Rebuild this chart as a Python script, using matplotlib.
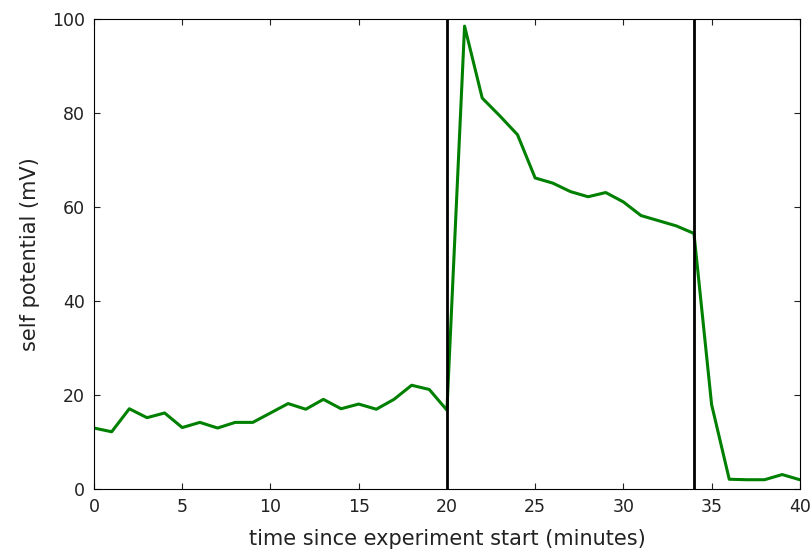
import matplotlib.pyplot as plt

# self potential readings, one per minute
minutes = list(range(0, 41))
potential = [13.0, 12.2, 17.1, 15.2, 16.2, 13.1, 14.2, 13.0, 14.2, 14.2,
             16.2, 18.2, 17.0, 19.1, 17.1, 18.1, 17.0, 19.1, 22.1, 21.2,
             16.8, 98.5, 83.2, 79.4, 75.4, 66.2, 65.1, 63.3, 62.2, 63.1,
             61.1, 58.2, 57.1, 56.0, 54.4, 18.0, 2.1, 2.0, 2.0, 3.1, 2.0]

# instants where the conditions were changed
events = [20, 34]

plt.rcParams['font.family'] = 'DejaVu Sans'

fig = plt.figure(figsize=(8.12, 5.53), dpi=100)
ax = fig.add_axes([0.1158, 0.1155, 0.8692, 0.85])

ax.plot(minutes, potential, color='green', linewidth=2.2)
for t in events:
    ax.axvline(t, color='black', linewidth=2)

ax.set_xlim(0, 40)
ax.set_ylim(0, 100)
ax.set_xticks(range(0, 41, 5))
ax.set_yticks(range(0, 101, 20))
ax.tick_params(direction='in', top=True, right=True, length=4, pad=6.5,
               labelsize=12.5, colors='#222222')
ax.set_xlabel('time since experiment start (minutes)', fontsize=15,
              color='#222222', labelpad=9)
ax.set_ylabel('self potential (mV)', fontsize=15, color='#222222', labelpad=9)

fig.savefig('out.png', dpi=100)
